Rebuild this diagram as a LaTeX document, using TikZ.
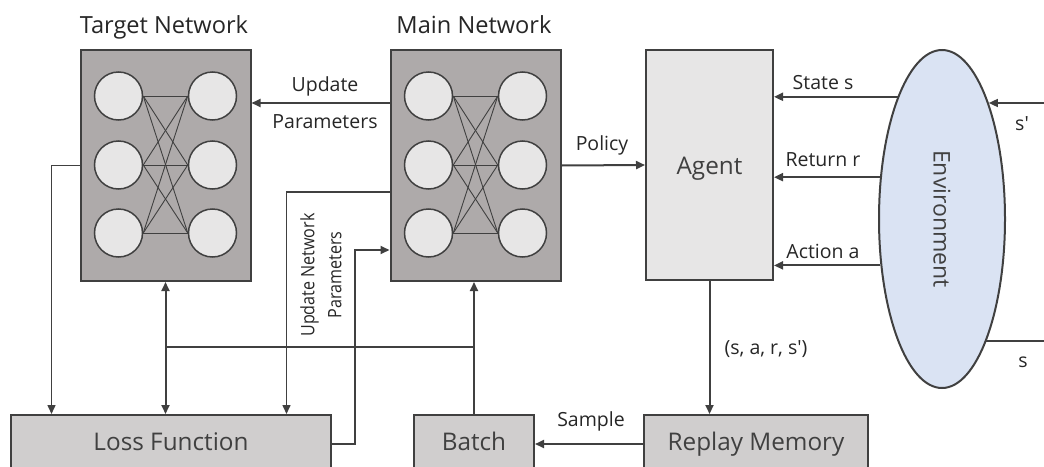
\documentclass[tikz,border=0pt]{standalone}
\usepackage{fontspec}
\setmainfont{Open Sans}
\usetikzlibrary{arrows.meta,shapes.geometric,calc}
\definecolor{netfill}{HTML}{AEAAAA}
\definecolor{nodefill}{HTML}{E7E6E6}
\definecolor{boxfill}{HTML}{D0CECE}
\definecolor{envfill}{HTML}{DAE3F3}
\definecolor{edge}{HTML}{404040}
\definecolor{txt}{HTML}{404040}
\definecolor{dtxt}{HTML}{262626}
\begin{document}
\begin{tikzpicture}[x=1pt,y=-1pt,
 net/.style={draw=edge, line width=2pt, fill=netfill, minimum width=170pt, minimum height=231pt, inner sep=0},
 neuron/.style={circle, draw=edge, line width=1.5pt, fill=nodefill, minimum size=48pt, inner sep=0},
 link/.style={draw=edge, line width=0.9pt},
 box/.style={draw=edge, line width=2pt, fill=boxfill, inner sep=0, font=\fontsize{24.3}{28}\selectfont, text=txt, text height=17.5pt, text depth=5pt},
 conn/.style={draw=edge, line width=2pt},
 arr/.style={conn, -{Triangle[length=9pt,width=8pt]}},
 arrb/.style={conn, {Triangle[length=9pt,width=8pt]}-{Triangle[length=9pt,width=8pt]}},
 lbl/.style={font=\fontsize{19.5}{23}\selectfont, text=dtxt, inner sep=0, anchor=base},
 ttl/.style={font=\fontsize{23.6}{27}\selectfont, text=dtxt, inner sep=0, anchor=base},
]
\useasboundingbox (0,0) rectangle (1044,466);

% titles
\node[ttl] (ttarget) at (164,33) {Target Network};
\node[ttl] (tmain) at (474,33) {Main Network};

% networks
\node[net] (tn) at (165.5,165.5) {};
\node[net] (mn) at (475.5,165.5) {};
\foreach \n/\cx in {t/165.5, m/475.5} {
  \foreach \r/\cy in {1/96,2/165,3/233} {
    \node[neuron] (\n l\r) at (\cx-47,\cy) {};
    \node[neuron] (\n r\r) at (\cx+47,\cy) {};
  }
  \foreach \i in {1,2,3} {
    \foreach \j in {1,2,3} {
      \draw[link] (\n l\i.east) -- (\n r\j.west);
    }
  }
}

% agent and environment
\node[box, fill=nodefill, minimum width=127pt, minimum height=230pt] (agent) at (709.5,165) {\raisebox{-3pt}{Agent}};
\node[ellipse, draw=edge, line width=2pt, fill=envfill, minimum width=126pt, minimum height=338pt, inner sep=0] (env) at (942,219) {};
\node[rotate=-90, font=\fontsize{23}{27}\selectfont, text=txt, inner sep=0] (envlbl) at (env.center) {Environment};

% bottom boxes
\node[box, minimum width=320pt, minimum height=58pt] (loss) at (171,444) {Loss Function};
\node[box, minimum width=120pt, minimum height=58pt] (batch) at (474,444) {Batch};
\node[box, minimum width=224pt, minimum height=58pt] (rm) at (756,444) {Replay Memory};

% connectors
\draw[arr] ([yshift=62.5pt]mn.west) -- ([yshift=62.5pt]tn.east);
\node[lbl] (lupd) at (325,91) {Update};
\node[lbl] (lpar) at (325,128) {Parameters};

\draw[arr] (mn.east) -- (agent.west);
\node[lbl] (lpol) at (602,150) {Policy};

\draw[arr] (env.110.3) -- (env.110.3 -| agent.east);
\draw[arr] (env.146.8) -- (env.146.8 -| agent.east);
\draw[arr] (env.217.2) -- (env.217.2 -| agent.east);
\node[lbl] (lst) at (823,89) {State s};
\node[lbl] (lret) at (823,166) {Return r};
\node[lbl] (lact) at (823,258) {Action a};

\coordinate (sp) at (1044,103);
\coordinate (sc) at (1044,340);
\draw[arr, line width=1.5pt] (sp) -- (sp -| env.68.5);
\draw[conn, line width=1.5pt] (env.290) -- (env.290 -| sc);
\node[lbl] (lsp) at (1022,130) {s′};
\node[lbl] (ls) at (1023,367) {s};

\draw[arr] (agent.south) -- (agent.south |- rm.north);
\node[lbl] (ltup) at (766,354) {(s, a, r, s′)};

\draw[arr] (rm.west) -- (batch.east);
\node[lbl] (lsam) at (591,426) {Sample};

\coordinate (hy) at (0,347);
\draw[arr] (batch.north) -- (batch.north |- mn.south);
\draw[conn] (tn.south |- hy) -- (batch.north |- hy);
\draw[arrb] (tn.south) -- (tn.south |- loss.north);
\draw[arr, line width=1.5pt] (tn.west) -- ++(-28,0) coordinate (c1) -- (c1 |- loss.north);
\draw[arr, line width=1.5pt] ([yshift=-26.5pt]mn.west) -- ++(-103,0) coordinate (c2) -- (c2 |- loss.north);
\draw[arr] (loss.east) -- ++(23,0) coordinate (c3) |- ([yshift=-84.5pt]mn.west);

\node[rotate=90, align=center, font=\fontsize{18.5}{27}\selectfont, text=dtxt, inner sep=0] (lupn) at (321,275) {\scalebox{0.87}[1]{Update Network}\\\scalebox{0.87}[1]{Parameters}};
\end{tikzpicture}
\end{document}
